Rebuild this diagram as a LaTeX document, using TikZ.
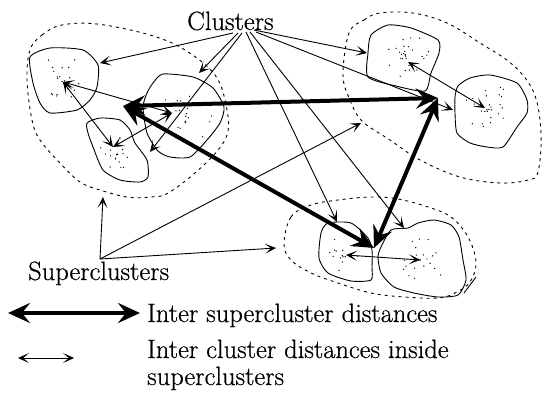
\documentclass[tikz,border=0pt]{standalone}
\usepackage{fontspec}
\newfontfamily\lblfont{Latin Modern Roman}[FakeBold=0.6]
\usetikzlibrary{arrows.meta}
\newcommand\scatterpts[5]{%
  \foreach \k in {1,...,#5}{%
    \pgfmathsetmacro\aa{360*rnd}%
    \pgfmathsetmacro\rr{rnd}%
    \fill ({#1+#3*\rr*cos(\aa)},{#2+#4*\rr*sin(\aa)}) circle[radius=0.7pt];
  }}
\tikzset{
  lbl/.style={inner sep=0pt, font=\lblfont\fontsize{26.5}{28}\selectfont},
  supc/.style={line width=0.9pt, dash pattern=on 3pt off 4pt},
  clus/.style={line width=0.9pt},
  thin/.style={line width=0.9pt, {Stealth[length=11pt,width=10pt,inset=6pt]}-{Stealth[length=11pt,width=10pt,inset=6pt]}},
  thinto/.style={line width=0.9pt, -{Stealth[length=11pt,width=10pt,inset=6pt]}},
  thick/.style={line width=4pt, {Stealth[length=22pt,width=20pt,inset=8pt]}-{Stealth[length=22pt,width=20pt,inset=8pt]}},
}
\begin{document}
\begin{tikzpicture}[x=1pt,y=-1pt]
\useasboundingbox (0,0) rectangle (542,394);
\pgfmathsetseed{11}
% superclusters (dashed)
\draw[supc] plot[smooth cycle, tension=0.6] coordinates {(30,50) (42,35) (62,25) (97,24) (150,35) (185,50) (215,75) (226,105) (227,135) (207,162) (170,192) (150,197) (127,197) (100,190) (80,182) (60,163) (40,140) (32,120) (27,80)};
\draw[supc] plot[smooth cycle, tension=0.6] coordinates {(349,33) (364,20) (380,13) (413,13) (447,23) (480,43) (513,65) (534,93) (541,133) (538,172) (528,180) (500,183) (460,177) (420,160) (390,140) (362,121) (350,100) (343,75)};
\draw[supc] plot[smooth cycle, tension=0.6] coordinates {(284,244) (291,217) (311,205) (338,200) (371,197) (398,199) (428,207) (451,217) (468,237) (476,262) (470,282) (455,293) (438,298) (404,297) (371,293) (338,283) (311,273) (291,260)};
% clusters
\draw[clus] plot[smooth cycle, tension=0.4] coordinates {(30,57) (50,48) (83,50) (98,65) (97,87) (90,100) (77,110) (50,113) (40,103) (33,83)};
\draw[clus] plot[smooth cycle, tension=0.4] coordinates {(143,107) (147,93) (153,83) (163,74) (193,77) (213,88) (224,107) (220,123) (207,140) (190,157) (170,157) (158,151) (147,133)};
\draw[clus] plot[smooth cycle, tension=0.4] coordinates {(87,123) (100,118) (120,120) (130,130) (135,143) (147,160) (148,177) (140,182) (120,180) (103,170) (93,147) (88,133)};
\draw[clus] plot[smooth cycle, tension=0.4] coordinates {(368,53) (371,35) (388,25) (411,28) (438,40) (439,53) (431,73) (425,91) (396,86) (368,77)};
\draw[clus] plot[smooth cycle, tension=0.4] coordinates {(455,97) (458,86) (470,78) (490,75) (517,83) (527,100) (527,113) (517,127) (503,147) (487,147) (470,143) (457,133) (455,113)};
\draw[clus] plot[smooth cycle, tension=0.4] coordinates {(321,233) (328,223) (351,223) (368,238) (372,250) (372,267) (371,280) (351,281) (328,273) (319,258)};
\draw[clus] plot[smooth cycle, tension=0.4] coordinates {(381,247) (391,230) (408,228) (418,223) (434,220) (451,225) (459,237) (463,260) (466,280) (458,295) (438,297) (414,293) (394,287) (381,273) (378,257)};
\draw[clus] (464,293) -- (476,277);
% dots
\scatterpts{63}{80}{28}{25}{22}
\scatterpts{185}{115}{32}{30}{20}
\scatterpts{117}{155}{22}{22}{18}
\scatterpts{405}{55}{25}{22}{28}
\scatterpts{490}{110}{28}{25}{26}
\scatterpts{345}{255}{20}{20}{14}
\scatterpts{420}{260}{30}{26}{22}
% centres
\coordinate (a1) at (63,82);
\coordinate (b1) at (172,113);
\coordinate (c1) at (113,147);
\coordinate (a2) at (408,62);
\coordinate (b2) at (485,108);
\coordinate (a3) at (346,255);
\coordinate (b3) at (420,260);
\coordinate (s1) at (123,106);
\coordinate (s2) at (438,98);
\coordinate (s3) at (374,248);
% thin inter cluster arrows
\draw[thin] (a1) -- (c1);
\draw[thin] (a1) -- (b1);
\draw[thin] (c1) -- (b1);
\draw[thin] (a2) -- (b2);
\draw[thin] (a3) -- (b3);
% text
\node[lbl, anchor=base west] (clus) at (187,30) {Clusters};
\node[lbl, anchor=base west] (sup) at (28,280) {Superclusters};
\node[lbl, anchor=base west] (leg1) at (147,322) {Inter supercluster distances};
\node[lbl, anchor=base west] (leg2) at (147,358) {Inter cluster distances inside};
\node[lbl, anchor=base west] (leg3) at (147,385) {superclusters};
% Clusters pointers
\coordinate (k1) at (233,33);
\coordinate (k2) at (238,33);
\coordinate (k3) at (242,33);
\coordinate (k4) at (246,32);
\coordinate (k5) at (250,32);
\coordinate (k6) at (254,30);
\coordinate (k7) at (256,32);
\coordinate (t1) at (100,63);
\coordinate (t2) at (199,73);
\coordinate (t3) at (150,152);
\coordinate (t4) at (337,222);
\coordinate (t5) at (404,228);
\coordinate (t6) at (367,53);
\coordinate (t7) at (453,110);
\foreach \i in {1,...,7} {\draw[thinto] (k\i) -- (t\i);}
% Superclusters pointers
\coordinate (q0) at (100,259);
\coordinate (u1) at (103,197);
\coordinate (u2) at (361,123);
\coordinate (u3) at (276,248);
\foreach \i in {1,2,3} {\draw[thinto] (q0) -- (u\i);}
% thick inter supercluster arrows
\draw[thick] (s1) -- (s2);
\draw[thick] (s1) -- (s3);
\draw[thick] (s2) -- (s3);
% legend arrows
\coordinate (l1a) at (8,313);
\coordinate (l1b) at (140,313);
\coordinate (l2a) at (18,358);
\coordinate (l2b) at (74,358);
\draw[thick] (l1a) -- (l1b);
\draw[thin] (l2a) -- (l2b);
\end{tikzpicture}
\end{document}
